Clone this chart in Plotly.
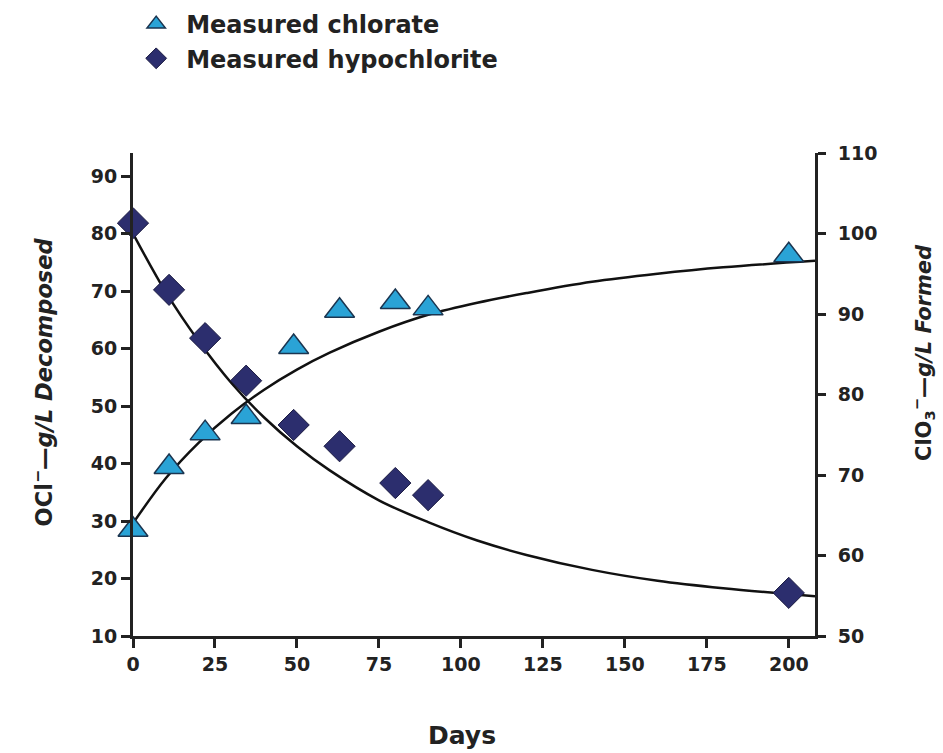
import plotly.graph_objects as go

# Measured points
days = [0, 11, 22, 34.5, 49, 63, 80, 90, 200]
hypochlorite = [81.8, 70.2, 61.8, 54.4, 46.7, 43.0, 36.6, 34.5, 17.5]   # left axis, g/L decomposed
chlorate = [63.2, 71.0, 75.2, 77.2, 85.9, 90.4, 91.5, 90.7, 97.3]        # right axis, g/L formed

# Fitted curves
curve_days = [0, 10, 20, 30, 40, 50, 60, 75, 90, 105, 120, 140, 160, 180, 208]
hypo_curve = [80, 69.8, 61.3, 54.0, 48.0, 43.0, 38.8, 33.6, 29.8, 26.6, 24.1, 21.5, 19.6, 18.3, 16.9]
chlor_curve = [64, 69.6, 74.0, 77.6, 80.6, 83.1, 85.2, 87.8, 89.9, 91.4, 92.6, 94.0, 95.0, 95.8, 96.6]

x_ticks = [0, 25, 50, 75, 100, 125, 150, 175, 200]
left_ticks = [10, 20, 30, 40, 50, 60, 70, 80, 90]
right_ticks = [50, 60, 70, 80, 90, 100, 110]

x_title = "Days"
left_title = "OCl<sup>−</sup>—<i>g/L Decomposed</i>"
right_title = "ClO<sub>3</sub><sup>−</sup>—<i>g/L Formed</i>"

FONT = "DejaVu Sans"
INK = "#222222"
TRI_FILL = "#2aa3d6"
TRI_EDGE = "#1b3550"
DIA_FILL = "#2c2e6e"
DIA_EDGE = "#1a1a40"

fig = go.Figure()

fig.add_trace(go.Scatter(x=curve_days, y=hypo_curve, mode="lines", line=dict(color="#111111", width=2.5, shape="spline"),
                         showlegend=False, hoverinfo="skip", yaxis="y", cliponaxis=False))
fig.add_trace(go.Scatter(x=curve_days, y=chlor_curve, mode="lines", line=dict(color="#111111", width=2.5, shape="spline"),
                         showlegend=False, hoverinfo="skip", yaxis="y2", cliponaxis=False))

fig.add_trace(go.Scatter(x=days, y=chlorate, mode="markers", name="Measured chlorate", yaxis="y2",
                         marker=dict(symbol="triangle-up", size=26, color=TRI_FILL, line=dict(color=TRI_EDGE, width=1.5)),
                         cliponaxis=False))
fig.add_trace(go.Scatter(x=days, y=hypochlorite, mode="markers", name="Measured hypochlorite", yaxis="y",
                         marker=dict(symbol="diamond", size=24, color=DIA_FILL, line=dict(color=DIA_EDGE, width=1)),
                         cliponaxis=False))

tickfont = dict(family=FONT, size=19, color=INK, weight="bold")

fig.update_layout(
    width=943, height=753,
    margin=dict(l=133, r=128, t=153, b=117, autoexpand=False),
    paper_bgcolor="white", plot_bgcolor="white",
    font=dict(family=FONT, color=INK),
    showlegend=True,
    legend=dict(x=-0.01, y=1.3126, xanchor="left", yanchor="top", bgcolor="rgba(0,0,0,0)",
                font=dict(family=FONT, size=24, color=INK, weight="bold"), itemsizing="trace",
                itemwidth=50, tracegroupgap=0, traceorder="normal"),
    xaxis=dict(range=[0, 208], tickvals=x_ticks, ticks="outside", ticklen=9, tickwidth=2.5, tickcolor=INK,
               showline=True, linecolor=INK, linewidth=3, showgrid=False, zeroline=False,
               tickfont=tickfont, automargin=False),
    yaxis=dict(range=[10, 94], tickvals=left_ticks, ticks="outside", ticklen=9, tickwidth=2.5, tickcolor=INK,
               showline=True, linecolor=INK, linewidth=3, showgrid=False, zeroline=False,
               tickfont=tickfont, automargin=False),
    yaxis2=dict(range=[50, 110], tickvals=right_ticks, overlaying="y", side="right", anchor="x",
                ticks="outside", ticklen=8, tickwidth=2.5, tickcolor=INK, ticklabelstandoff=8,
                showline=True, linecolor=INK, linewidth=3, showgrid=False, zeroline=False,
                tickfont=tickfont, automargin=False),
    annotations=[
        dict(text=x_title, xref="paper", yref="paper", x=0.4824, y=-0.205, xanchor="center", yanchor="middle",
             showarrow=False, font=dict(family=FONT, size=25, color=INK, weight="bold")),
        dict(text=left_title, xref="paper", yref="paper", x=-0.1327, y=0.526, xanchor="center", yanchor="middle",
             textangle=-90, showarrow=False, font=dict(family=FONT, size=22.5, color=INK, weight="bold")),
        dict(text=right_title, xref="paper", yref="paper", x=1.1584, y=0.586, xanchor="center", yanchor="middle",
             textangle=-90, showarrow=False, font=dict(family=FONT, size=21, color=INK, weight="bold")),
    ],
)

fig.write_html("out.html")
